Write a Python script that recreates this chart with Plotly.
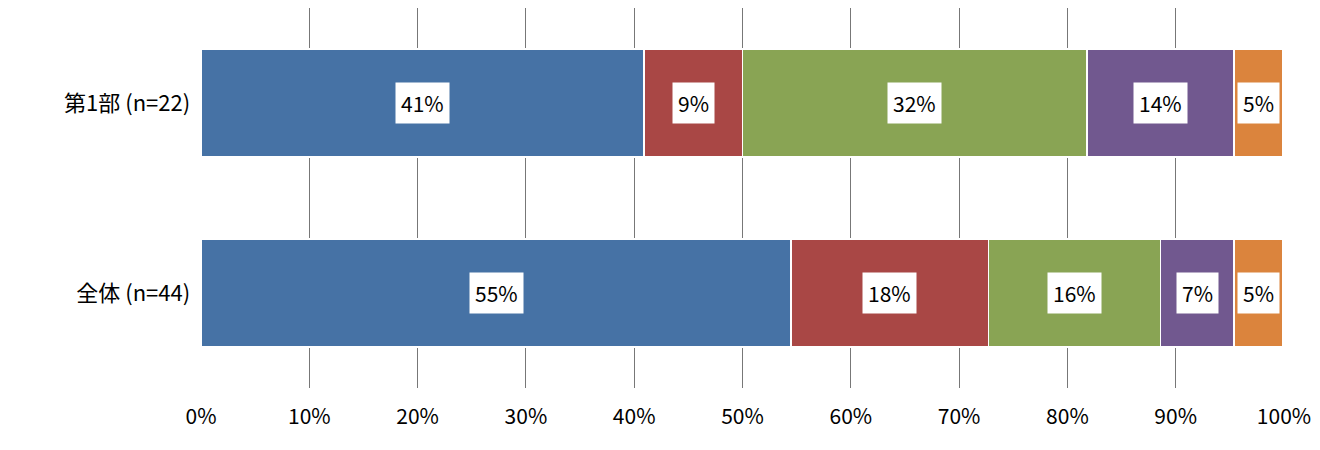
import plotly.graph_objects as go

categories = ["全体 (n=44)", "第1部 (n=22)"]
series_names = ["A", "B", "C", "D", "E"]
values = {
    "A": [54.5, 40.9],
    "B": [18.2, 9.1],
    "C": [15.9, 31.8],
    "D": [6.8, 13.6],
    "E": [4.5, 4.5],
}
labels = {
    "A": ["55%", "41%"],
    "B": ["18%", "9%"],
    "C": ["16%", "32%"],
    "D": ["7%", "14%"],
    "E": ["5%", "5%"],
}
colors = ["#4672A5", "#A94745", "#89A454", "#71588F", "#DB843D"]
tick_vals = [0, 10, 20, 30, 40, 50, 60, 70, 80, 90, 100]
tick_text = [f"{v}%" for v in tick_vals]

fig = go.Figure()
font = "Noto Sans CJK JP"
for name, c in zip(series_names, colors):
    fig.add_trace(go.Bar(y=categories, x=values[name], orientation="h", name=name,
                         marker=dict(color=c, line=dict(color="white", width=1.5)),
                         width=0.57))

for ci, cat in enumerate(categories):
    cum = 0
    for name in series_names:
        v = values[name][ci]
        fig.add_annotation(x=cum + v / 2, y=cat, text=labels[name][ci], showarrow=False,
                           bgcolor="white", font=dict(size=21, color="black", family=font),
                           borderpad=5)
        cum += v

fig.update_layout(
    barmode="stack", width=1320, height=450, showlegend=False,
    plot_bgcolor="white", paper_bgcolor="white",
    margin=dict(l=193, r=44, t=0, b=70, autoexpand=False),
    font=dict(family=font, size=21, color="black"),
    xaxis=dict(range=[0, 100], tickvals=tick_vals, ticktext=tick_text, showgrid=True,
               gridcolor="#777777", gridwidth=1.2, zeroline=False, ticks="", ticklen=0,
               tickfont=dict(size=21), showline=False, automargin=False,
               ticklabelstandoff=14),
    yaxis=dict(range=[-0.5, 1.5], showgrid=False, ticks="", tickfont=dict(size=22),
               ticksuffix="  ", automargin=False),
)
fig.write_html("out.html")
